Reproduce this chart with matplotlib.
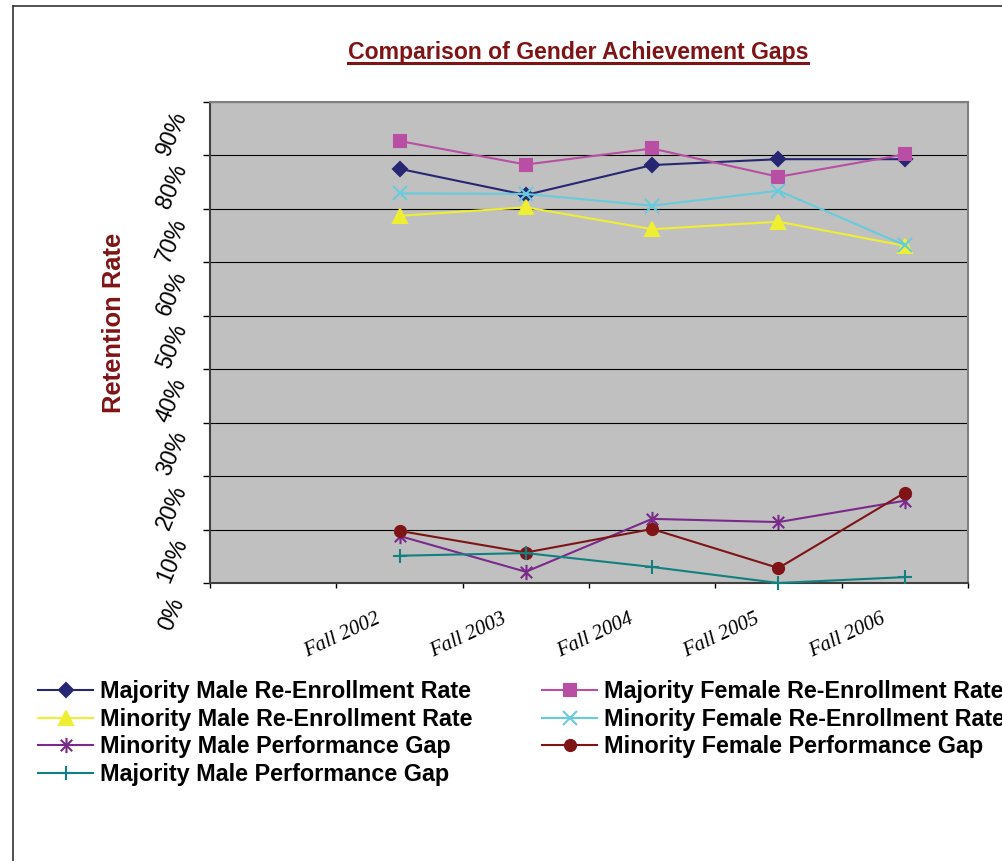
import numpy as np
import matplotlib
matplotlib.use("Agg")
import matplotlib.pyplot as plt
from matplotlib.path import Path
from matplotlib.lines import Line2D
from matplotlib.transforms import ScaledTranslation

# values (fractions of 1)
years = ["Fall 2002", "Fall 2003", "Fall 2004", "Fall 2005", "Fall 2006"]
maj_male_rate = [0.775, 0.726, 0.782, 0.793, 0.793]
maj_female_rate = [0.827, 0.783, 0.813, 0.760, 0.802]
min_male_rate = [0.687, 0.703, 0.662, 0.676, 0.631]
min_female_rate = [0.729, 0.728, 0.706, 0.734, 0.632]
min_male_gap = [0.088, 0.021, 0.120, 0.114, 0.154]
min_female_gap = [0.0975, 0.057, 0.101, 0.028, 0.169]
maj_male_gap = [0.051, 0.056, 0.030, 0.000, 0.011]
y_ticks = [0.0, 0.1, 0.2, 0.3, 0.4, 0.5, 0.6, 0.7, 0.8, 0.9]

plt.rcParams["font.family"] = ["Liberation Sans", "DejaVu Sans"]

W, H = 1003, 861
MAROON = "#7F1416"

# Excel style asterisk: vertical bar plus an x
star = Path(
    [(0, -1), (0, 1), (-0.75, -0.75), (0.75, 0.75), (-0.75, 0.75), (0.75, -0.75)],
    [Path.MOVETO, Path.LINETO] * 3,
)

series = [
    ("Majority Male Re-Enrollment Rate", maj_male_rate, "#262673", "D", 7.5),
    ("Majority Female Re-Enrollment Rate", maj_female_rate, "#B94FA4", "s", 8.5),
    ("Minority Male Re-Enrollment Rate", min_male_rate, "#EEEE33", "^", 9.5),
    ("Minority Female Re-Enrollment Rate", min_female_rate, "#66CCDD", "x", 9.5),
    ("Minority Male Performance Gap", min_male_gap, "#7A2A8A", star, 11),
    ("Minority Female Performance Gap", min_female_gap, MAROON, "o", 8),
    ("Majority Male Performance Gap", maj_male_gap, "#128080", "+", 10.5),
]

fig = plt.figure(figsize=(W / 100, H / 100), dpi=100)
ax = fig.add_axes([210 / W, 1 - 583 / H, (968 - 210) / W, (583 - 102) / H])
ax.set_facecolor("#C0C0C0")

# first category slot is empty in the original sheet
slots = np.arange(len(years)) + 1.5

handles = []
for label, values, color, marker, ms in series:
    (h,) = ax.plot(
        slots, values, color=color, lw=1.5, marker=marker, ms=ms,
        mfc=color, mec=color, mew=1.5, label=label, clip_on=False, zorder=3,
    )
    handles.append(h)

ax.set_xlim(0, len(years) + 1)
ax.set_ylim(0, 0.9)
ax.set_yticks(y_ticks, [f"{round(v * 100)}%" for v in y_ticks])
ax.yaxis.grid(True, color="black", lw=0.8)
ax.set_axisbelow(True)

ax.set_xticks(slots, years)
ax.set_xticks(np.arange(0, len(years) + 2), minor=True)
ax.tick_params(axis="x", which="major", length=0, pad=38, labelsize=15)
ax.tick_params(axis="x", which="minor", length=3.6, width=1, color="black")
ax.tick_params(axis="y", length=5, width=1, color="black", pad=22.4, labelsize=16.5)

for lab in ax.get_xticklabels():
    lab.set_fontfamily("Liberation Serif")
    lab.set_fontstyle("italic")
    lab.set_rotation(25)
    lab.set_ha("center")
    lab.set_va("center")
    lab.set_transform(lab.get_transform() + ScaledTranslation(-0.57, 0, fig.dpi_scale_trans))

for lab in ax.get_yticklabels():
    lab.set_rotation(67)
    lab.set_ha("center")
    lab.set_va("center")
    lab.set_transform(lab.get_transform() + ScaledTranslation(0, -0.31, fig.dpi_scale_trans))

for side in ["top", "right"]:
    ax.spines[side].set_color("#808080")
    ax.spines[side].set_linewidth(1.5)
for side in ["left", "bottom"]:
    ax.spines[side].set_color("#404040")
    ax.spines[side].set_linewidth(1.5)

# titles
title = fig.text(
    578 / W, 1 - 59 / H, "Comparison of Gender Achievement Gaps",
    ha="center", va="baseline", fontsize=16.6, weight="bold", color=MAROON,
)
fig.text(
    114 / W, 1 - 323 / H, "Retention Rate", rotation=90, ha="center", va="center",
    fontsize=18.4, weight="bold", color=MAROON,
)

# legend in two columns, filled row by row like Excel
fs = 16.8
fs_px = fs * 100 / 72
legend_kw = dict(
    loc="upper left", frameon=False, borderpad=0, borderaxespad=0,
    handlelength=55 / fs_px, handletextpad=7 / fs_px, labelspacing=0.2,
    prop={"weight": "bold", "size": fs}, numpoints=1,
)
fig.legend(handles=handles[0::2], bbox_to_anchor=(38 / W, 1 - 680 / H), **legend_kw)
fig.legend(handles=handles[1::2], bbox_to_anchor=(542 / W, 1 - 680 / H), **legend_kw)

# chart frame (left and top edges visible in the crop)
fig.add_artist(Line2D([13 / W, 13 / W], [0, 1 - 6 / H], color="#333333", lw=1.2))
fig.add_artist(Line2D([13 / W, 1], [1 - 6 / H, 1 - 6 / H], color="#333333", lw=1.2))

# underline the title
fig.canvas.draw()
bb = title.get_window_extent()
uy = 1 - 62.5 / H
fig.add_artist(Line2D([bb.x0 / W, bb.x1 / W], [uy, uy], color=MAROON, lw=2.2))

fig.savefig("out.png", dpi=100)
